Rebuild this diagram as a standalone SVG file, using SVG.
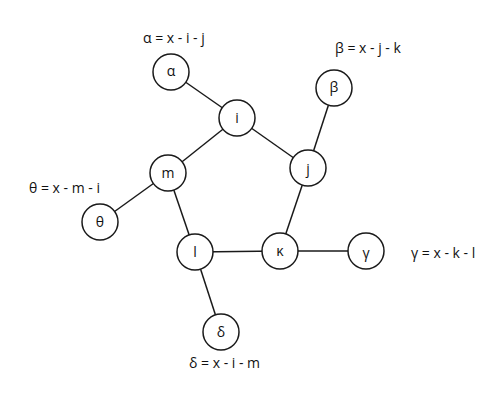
<svg xmlns="http://www.w3.org/2000/svg" width="497" height="416" viewBox="0 0 497 416">
<style>
.n circle{fill:#fff;stroke:#1a1a1a;stroke-width:1.5}
.n text,.lbl{font-family:"Open Sans","Liberation Sans",sans-serif;font-size:14px;fill:#111}
.n text{text-anchor:middle;dominant-baseline:central}
#edges line{stroke:#1a1a1a;stroke-width:1.5}
</style>
<rect width="497" height="416" fill="#fff"/>
<g id="edges">
<line x1="171" y1="72" x2="237" y2="118"/>
<line x1="237" y1="118" x2="168" y2="173"/>
<line x1="237" y1="118" x2="308" y2="168"/>
<line x1="308" y1="168" x2="334" y2="88"/>
<line x1="308" y1="168" x2="280" y2="251"/>
<line x1="168" y1="173" x2="100" y2="222"/>
<line x1="168" y1="173" x2="195" y2="252"/>
<line x1="195" y1="252" x2="280" y2="251"/>
<line x1="280" y1="251" x2="366" y2="251"/>
<line x1="195" y1="252" x2="221" y2="332"/>
</g>
<g id="alpha" class="n"><circle cx="171" cy="72" r="18"/><text x="171" y="70">α</text></g>
<g id="i" class="n"><circle cx="237" cy="118" r="18"/><text x="237" y="117">i</text></g>
<g id="beta" class="n"><circle cx="334" cy="88" r="18"/><text x="334" y="86">β</text></g>
<g id="j" class="n"><circle cx="308" cy="168" r="18"/><text x="308" y="168">j</text></g>
<g id="m" class="n"><circle cx="168" cy="173" r="18"/><text x="168" y="172">m</text></g>
<g id="theta" class="n"><circle cx="100" cy="222" r="18"/><text x="100" y="221">θ</text></g>
<g id="l" class="n"><circle cx="195" cy="252" r="18"/><text x="195" y="251">l</text></g>
<g id="kappa" class="n"><circle cx="280" cy="251" r="18"/><text x="280" y="250">κ</text></g>
<g id="gamma" class="n"><circle cx="366" cy="251" r="18"/><text x="366" y="252">γ</text></g>
<g id="delta" class="n"><circle cx="221" cy="332" r="18"/><text x="221" y="331">δ</text></g>
<text class="lbl" x="143" y="43">α = x - i - j</text>
<text class="lbl" x="335" y="53">β = x - j - k</text>
<text class="lbl" x="29" y="193">θ = x - m - i</text>
<text class="lbl" x="411" y="258">γ = x - k - l</text>
<text class="lbl" x="189" y="368">δ = x - i - m</text>
</svg>
